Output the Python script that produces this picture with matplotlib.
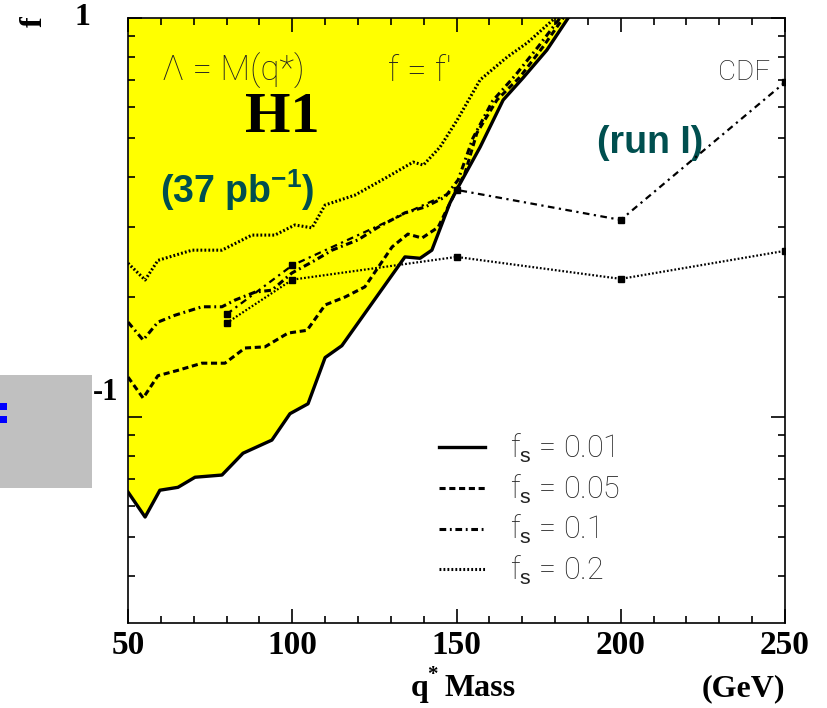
import numpy as np
import matplotlib.pyplot as plt
from matplotlib.patches import Rectangle
from matplotlib.ticker import LogLocator, MultipleLocator, NullFormatter, FixedLocator

plt.rcParams['mathtext.fontset'] = 'custom'
plt.rcParams['mathtext.rm'] = 'Liberation Sans'
plt.rcParams['mathtext.bf'] = 'Liberation Sans:bold'

# H1 exclusion limits on f (Lambda = M(q*), f = f'), one curve per f_s
mass_001 = [50, 55.2, 59.7, 65.2, 70.4, 78.6, 85.0, 93.8, 99.3, 104.8, 110.0, 115.1,
            124.3, 134.3, 138.9, 142.5, 148.0, 150.5, 157.2, 164.2, 170.2, 177.5, 184.0]
f_001 = [0.0649, 0.0562, 0.0656, 0.0667, 0.0707, 0.0716, 0.0812, 0.0876, 0.102, 0.108,
         0.141, 0.151, 0.193, 0.252, 0.250, 0.262, 0.344, 0.377, 0.475, 0.623, 0.707,
         0.831, 1.0]

mass_005 = [50, 54.6, 59.1, 65.2, 72.5, 79.5, 85.6, 91.7, 98.7, 104.5, 110.0, 116.1,
            122.1, 130.4, 135.2, 139.5, 144.4, 149.5, 152.6, 156.2, 162.3, 169.3, 176.3,
            182.5]
f_005 = [0.126, 0.1116, 0.127, 0.131, 0.1365, 0.1365, 0.149, 0.150, 0.1624, 0.165,
         0.191, 0.200, 0.212, 0.267, 0.2875, 0.281, 0.299, 0.364, 0.409, 0.515, 0.623,
         0.711, 0.846, 1.0]

mass_01 = [50, 54.6, 59.1, 64.3, 72.5, 78.6, 82.6, 88.7, 93.8, 99.9, 106.9, 112.1,
           120.0, 126.1, 134.3, 140.4, 146.5, 150.5, 155.0, 161.0, 168.0, 175.0, 181.5]
f_01 = [0.173, 0.156, 0.173, 0.180, 0.189, 0.189, 0.1965, 0.2057, 0.208, 0.2297, 0.247,
        0.262, 0.278, 0.299, 0.325, 0.336, 0.356, 0.393, 0.50, 0.62, 0.72, 0.85, 1.0]

mass_02 = [50, 55.2, 59.1, 69.5, 78.6, 87.7, 94.7, 100.8, 106.0, 110.0, 119.1, 128.8,
           136.8, 139.9, 145.0, 150.2, 157.2, 165.4, 171.5, 180.0]
f_02 = [0.243, 0.2206, 0.247, 0.262, 0.262, 0.2858, 0.2858, 0.303, 0.298, 0.340, 0.360,
        0.399, 0.4355, 0.428, 0.475, 0.555, 0.700, 0.798, 0.866, 1.0]

# CDF run I points
cdf_mass = [80, 100, 150, 200, 250]
cdf_f_a = [0.181, 0.240, 0.371, 0.312, 0.690]
cdf_f_b = [0.172, 0.221, 0.252, 0.222, 0.261]

legend_labels = ['f$_\\mathrm{s}$ = 0.01', 'f$_\\mathrm{s}$ = 0.05',
                 'f$_\\mathrm{s}$ = 0.1', 'f$_\\mathrm{s}$ = 0.2']

serif_bold = dict(family='Liberation Serif', weight='bold', color='black')
thin = dict(family='Roboto', weight='light', color='#222222')
teal = '#004f4f'

fig = plt.figure(figsize=(8.27, 7.08), dpi=100)
ax = fig.add_axes([0.1548, 0.1201, 0.7944, 0.8545])

ax.fill_between(mass_001, f_001, 1.0, color='#ffff00', lw=0, zorder=1)

h1, = ax.plot(mass_001, f_001, color='black', lw=2.4, zorder=3)
h2, = ax.plot(mass_005, f_005, color='black', lw=2.2, ls=(0, (2, 1.2)), zorder=3)
h3, = ax.plot(mass_01, f_01, color='black', lw=2.2, ls=(0, (2.2, 1.2, 0.6, 1.2)), zorder=3)
h4, = ax.plot(mass_02, f_02, color='black', lw=2.2, ls=(0, (0.6, 0.7)), zorder=3)

ax.plot(cdf_mass, cdf_f_a, color='black', lw=1.6, ls=(0, (3, 2, 1, 2)),
        marker='s', ms=4.5, zorder=4)
ax.plot(cdf_mass, cdf_f_b, color='black', lw=1.6, ls=(0, (0.8, 0.9)),
        marker='s', ms=4.5, zorder=4)

ax.set_yscale('log')
ax.set_xlim(50, 250)
ax.set_ylim(0.0305, 1.0)

ax.xaxis.set_major_locator(MultipleLocator(50))
ax.xaxis.set_minor_locator(MultipleLocator(10))
ax.yaxis.set_major_locator(FixedLocator([0.1, 1.0]))
ax.yaxis.set_minor_locator(LogLocator(base=10, subs=np.arange(2, 10)))
ax.yaxis.set_major_formatter(NullFormatter())
ax.yaxis.set_minor_formatter(NullFormatter())
ax.tick_params(which='both', direction='in', top=True, right=True, width=1.2)
ax.tick_params(which='major', length=10)
ax.tick_params(which='minor', length=5)
ax.tick_params(axis='x', which='major', pad=5, labelsize=24)
for lab in ax.get_xticklabels():
    lab.set_fontfamily('Liberation Serif')
    lab.set_fontweight('bold')
for sp in ax.spines.values():
    sp.set_linewidth(1.2)

# y tick labels, placed by hand
ytr = ax.get_yaxis_transform()
ax.text(-0.058, 1.0, '1', transform=ytr, ha='right', va='center', fontsize=23, **serif_bold)
ax.text(-0.015, 0.1155, '-1', transform=ytr, ha='right', va='center', fontsize=22, **serif_bold)
fig.text(0.041, 0.969, 'f', rotation=90, ha='center', va='center', fontsize=23, **serif_bold)

# axis title
fig.text(0.497, 0.027, 'q', ha='left', va='center', fontsize=23, **serif_bold)
fig.text(0.517, 0.047, '*', ha='left', va='center', fontsize=15, **serif_bold)
fig.text(0.537, 0.027, 'Mass', ha='left', va='center', fontsize=23, **serif_bold)
fig.text(0.949, 0.027, '(GeV)', ha='right', va='center', fontsize=23, **serif_bold)

# annotations in the plot
ax.text(60.4, 0.736, 'Λ = M(q*)', ha='left', va='center', fontsize=25, **thin)
ax.text(129.1, 0.736, "f = f'", ha='left', va='center', fontsize=25, **thin)
ax.text(245.5, 0.732, 'CDF', ha='right', va='center', fontsize=20, **thin)
ax.text(96.9, 0.56, 'H1', ha='center', va='center', fontsize=42, **serif_bold)
ax.text(59.7, 0.371, '(37 pb$^\\mathbf{-1}$)', ha='left', va='center', fontsize=27,
        family='Liberation Sans', weight='bold', color=teal)
ax.text(192.8, 0.486, '(run I)', ha='left', va='center', fontsize=27,
        family='Liberation Sans', weight='bold', color=teal)

leg = ax.legend([h1, h2, h3, h4], legend_labels, loc='upper left',
                bbox_to_anchor=(0.474, 0.316), frameon=False, handlelength=1.5,
                handletextpad=0.8, labelspacing=0.25, borderpad=0, borderaxespad=0,
                prop=dict(family='Roboto', weight='light', size=22))
for t in leg.get_texts():
    t.set_color('#222222')

# grey overlay box with blue colon on the left edge
fig.patches.append(Rectangle((0, 0.3107), 0.111, 0.1596, transform=fig.transFigure,
                             facecolor='#c0c0c0', edgecolor='none', zorder=10))
fig.patches.append(Rectangle((0, 0.4209), 0.009, 0.0099, transform=fig.transFigure,
                             facecolor='#0000ff', edgecolor='none', zorder=11))
fig.patches.append(Rectangle((0, 0.4025), 0.009, 0.0099, transform=fig.transFigure,
                             facecolor='#0000ff', edgecolor='none', zorder=11))

fig.savefig('out.png', dpi=100)
